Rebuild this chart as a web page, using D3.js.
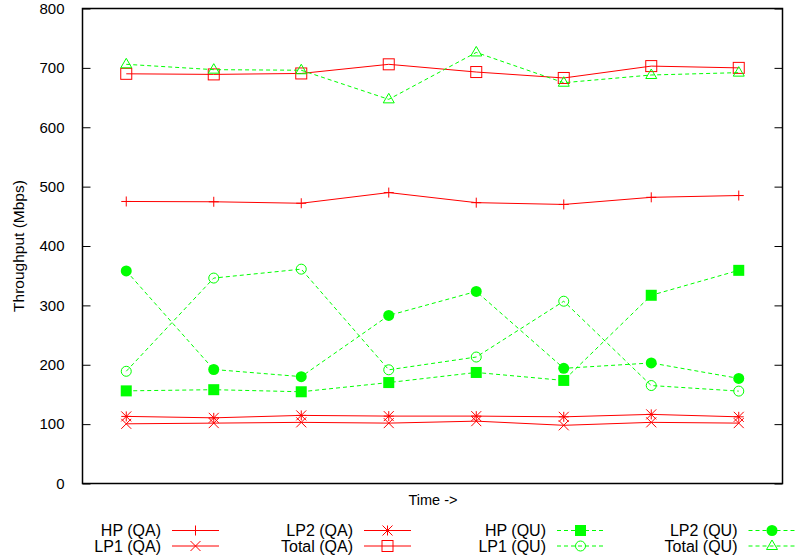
<!DOCTYPE html>
<html><head><meta charset="utf-8">
<script src="https://cdn.jsdelivr.net/npm/d3@7/dist/d3.min.js"></script>
<style>body{margin:0;background:#fff}svg{display:block}text{font-family:"Liberation Sans",Arial,sans-serif;fill:#000}</style>
</head><body>
<svg id="chart" width="797" height="559"></svg>
<script>
const times = [1,2,3,4,5,6,7,8];
const yTicks = [0,100,200,300,400,500,600,700,800];
const hpQA    = [475,474.5,472,490,473,470,482,485];
const lp1QA   = [100.5,101.7,103,101.7,105,98,103,101.7];
const lp2QA   = [113,110.6,114.7,113.5,113.5,112.3,116.4,112.3];
const totalQA = [690,689,690.6,706,693,683,703,700];
const hpQU    = [156,158,154.5,170,187,173.6,317,359];
const lp1QU   = [189,346,361,191.5,213,307,165,155.6];
const lp2QU   = [358,192,180,283,323.5,194,203,177];
const totalQU = [706,697,696,647,726,675,688,692];
const seriesNames = ["HP (QA)","LP1 (QA)","LP2 (QA)","Total (QA)","HP (QU)","LP1 (QU)","LP2 (QU)","Total (QU)"];

const series = [
  {name:seriesNames[0], values:hpQA, color:"#ff0000", dash:null, marker:"plus"},
  {name:seriesNames[1], values:lp1QA, color:"#ff0000", dash:null, marker:"cross"},
  {name:seriesNames[2], values:lp2QA, color:"#ff0000", dash:null, marker:"star"},
  {name:seriesNames[3], values:totalQA, color:"#ff0000", dash:null, marker:"square"},
  {name:seriesNames[4], values:hpQU, color:"#00ff00", dash:"4,3", marker:"fsquare"},
  {name:seriesNames[5], values:lp1QU, color:"#00ff00", dash:"4,3", marker:"circle"},
  {name:seriesNames[6], values:lp2QU, color:"#00ff00", dash:"4,3", marker:"fcircle"},
  {name:seriesNames[7], values:totalQU, color:"#00ff00", dash:"4,3", marker:"triangle"}
];

const L=82.5, R=782.5, T=8.5, B=483.5;
const svg = d3.select("#chart");
const x = d3.scaleLinear().domain([0.5,8.5]).range([L,R]);
const y = d3.scaleLinear().domain([0,800]).range([B,T]);

// y tick labels and inward ticks (left and right)
const yAxisL = d3.axisLeft(y).tickValues(yTicks).tickSize(-8).tickPadding(18);
const gL = svg.append("g").attr("transform",`translate(${L},0)`).call(yAxisL);
gL.select(".domain").remove();
gL.selectAll("text").style("font-size","15px").attr("font-family","Liberation Sans, Arial, sans-serif").attr("fill","#000");
gL.selectAll("line").attr("stroke","#000");
const yAxisR = d3.axisRight(y).tickValues(yTicks).tickSize(-8).tickFormat("");
const gR = svg.append("g").attr("transform",`translate(${R},0)`).call(yAxisR);
gR.select(".domain").remove();
gR.selectAll("line").attr("stroke","#000");

// frame
svg.append("rect").attr("x",L).attr("y",T).attr("width",R-L).attr("height",B-T)
  .attr("fill","none").attr("stroke","#000").attr("stroke-width",1.5);

// axis labels
svg.append("text").attr("x",433).attr("y",505).attr("text-anchor","middle").style("font-size","14.5px").text("Time ->");
svg.append("text").attr("transform","translate(24,246) rotate(-90)").attr("text-anchor","middle").style("font-size","15.5px").text("Throughput (Mbps)");

function drawMarker(g, type, cx, cy, color){
  const s=5;
  if(type==="plus"){
    g.append("path").attr("d",`M${cx-s},${cy}H${cx+s}M${cx},${cy-s}V${cy+s}`).attr("stroke",color).attr("fill","none");
  } else if(type==="cross"){
    g.append("path").attr("d",`M${cx-s},${cy-s}L${cx+s},${cy+s}M${cx-s},${cy+s}L${cx+s},${cy-s}`).attr("stroke",color).attr("fill","none");
  } else if(type==="star"){
    g.append("path").attr("d",`M${cx-s},${cy}H${cx+s}M${cx},${cy-s}V${cy+s}M${cx-s},${cy-s}L${cx+s},${cy+s}M${cx-s},${cy+s}L${cx+s},${cy-s}`).attr("stroke",color).attr("fill","none");
  } else if(type==="square"){
    g.append("rect").attr("x",cx-5.5).attr("y",cy-5.5).attr("width",11).attr("height",11).attr("stroke",color).attr("fill","none");
  } else if(type==="fsquare"){
    g.append("rect").attr("x",cx-5.5).attr("y",cy-5.5).attr("width",11).attr("height",11).attr("fill",color);
  } else if(type==="circle"){
    g.append("circle").attr("cx",cx).attr("cy",cy).attr("r",5).attr("stroke",color).attr("fill","none");
  } else if(type==="fcircle"){
    g.append("circle").attr("cx",cx).attr("cy",cy).attr("r",5.5).attr("fill",color);
  } else if(type==="triangle"){
    g.append("path").attr("d",`M${cx},${cy-6}L${cx+5.5},${cy+3.5}L${cx-5.5},${cy+3.5}Z`).attr("stroke",color).attr("fill","none");
  }
}

const line = d3.line().x((d,i)=>x(times[i])).y(d=>y(d));
series.forEach(s=>{
  const g = svg.append("g");
  g.append("path").datum(s.values).attr("d",line).attr("fill","none")
    .attr("stroke",s.color).attr("stroke-width",1).attr("stroke-dasharray",s.dash);
  s.values.forEach((v,i)=>drawMarker(g,s.marker,x(times[i]),y(v),s.color));
});

// legend: 4 columns x 2 rows, column-major
const colTextX=[161,353,546,737.5], rowY=[530.5,546];
series.forEach((s,k)=>{
  const c=Math.floor(k/2), r=k%2;
  const g=svg.append("g");
  g.append("text").attr("x",colTextX[c]).attr("y",rowY[r]+5.5).attr("text-anchor","end").style("font-size","16px").text(s.name);
  const x0=colTextX[c]+11, x1=x0+47;
  g.append("line").attr("x1",x0).attr("x2",x1).attr("y1",rowY[r]).attr("y2",rowY[r])
    .attr("stroke",s.color).attr("stroke-dasharray",s.dash);
  drawMarker(g,s.marker,(x0+x1)/2,rowY[r],s.color);
});
</script>
</body></html>
